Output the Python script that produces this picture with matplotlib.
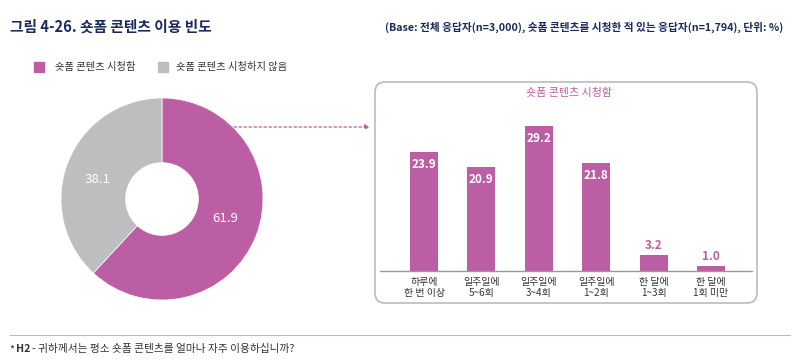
import matplotlib
matplotlib.use('Agg')
import matplotlib.pyplot as plt
from matplotlib.patches import FancyBboxPatch, Rectangle

plt.rcParams['font.family'] = ['Noto Sans CJK KR', 'DejaVu Sans']

# 데이터
pie_labels = ['숏폼 콘텐츠 시청함', '숏폼 콘텐츠 시청하지 않음']
pie_values = [61.9, 38.1]
bar_cats = ['하루에\n한 번 이상', '일주일에\n5~6회', '일주일에\n3~4회',
            '일주일에\n1~2회', '한 달에\n1~3회', '한 달에\n1회 미만']
bar_values = [23.9, 20.9, 29.2, 21.8, 3.2, 1.0]

MAGENTA = '#BC5EA3'
GRAY = '#BDBEC0'
NAVY = '#1B2A5C'
TXT = '#333333'
W, H = 800, 360

def px(x0, y0, x1, y1):
    # 픽셀 좌표(좌상단 기준) -> figure 비율
    return [x0 / W, 1 - y1 / H, (x1 - x0) / W, (y1 - y0) / H]

fig = plt.figure(figsize=(8, 3.6), dpi=100)

# 배경용 축 (픽셀 단위)
bg = fig.add_axes([0, 0, 1, 1])
bg.set_xlim(0, W)
bg.set_ylim(H, 0)
bg.axis('off')

bg.text(10, 27, '그림 4-26. 숏폼 콘텐츠 이용 빈도', fontsize=10.6, fontweight='bold',
        color=NAVY, va='center', ha='left')
bg.text(783, 27, '(Base: 전체 응답자(n=3,000), 숏폼 콘텐츠를 시청한 적 있는 응답자(n=1,794), 단위: %)',
        fontsize=7.7, fontweight='bold', color=NAVY, va='center', ha='right')

# 범례
bg.add_patch(Rectangle((34, 62), 10, 10, color=MAGENTA))
bg.text(55, 67, pie_labels[0], fontsize=7.4, color=TXT, va='center')
bg.add_patch(Rectangle((158, 62), 10, 10, color=GRAY))
bg.text(176, 67, pie_labels[1], fontsize=7.4, color=TXT, va='center')

# 오른쪽 박스
bg.add_patch(FancyBboxPatch((375, 82), 382, 221, boxstyle='round,pad=0,rounding_size=10',
                            fc='white', ec='#BBBBBB', lw=1.2))
bg.text(569, 93, '숏폼 콘텐츠 시청함', fontsize=7.9, color=MAGENTA, ha='center', va='center')

# 점선 화살표
bg.annotate('', xy=(370, 127), xytext=(234, 127),
            arrowprops=dict(arrowstyle='-|>', color=MAGENTA, lw=0.9, ls=(0, (2, 2)),
                            mutation_scale=7, shrinkA=0, shrinkB=0))

# 하단 구분선과 주석
bg.plot([10, 790], [335, 335], color='#BBBBBB', lw=0.8)
bg.text(9, 349, '*', fontsize=7.7, color=TXT, va='center')
bg.text(16, 349, 'H2', fontsize=7.7, fontweight='bold', color=TXT, va='center')
bg.text(32, 349, '- 귀하께서는 평소 숏폼 콘텐츠를 얼마나 자주 이용하십니까?', fontsize=7.7,
        color=TXT, va='center')

# 도넛 차트
ax1 = fig.add_axes(px(61, 98, 263, 300))
ax1.pie(pie_values, colors=[MAGENTA, GRAY], startangle=90, counterclock=False,
        wedgeprops=dict(width=0.64, edgecolor='white', linewidth=0.5))
ax1.set_xlim(-1, 1)
ax1.set_ylim(-1, 1)
ax1.set_aspect('equal')
ax1.text(0.63, -0.19, f'{pie_values[0]}', color='white', fontsize=9.5, ha='center', va='center')
ax1.text(-0.64, 0.19, f'{pie_values[1]}', color='white', fontsize=9.5, ha='center', va='center')

# 막대 차트
ax2 = fig.add_axes(px(380, 100, 752, 271))
x = list(range(len(bar_values)))
ax2.bar(x, bar_values, width=0.49, color=MAGENTA)
ax2.set_xlim(-0.767, 5.714)
ax2.set_ylim(0, 171 / 4.97)
for s in ['top', 'right', 'left']:
    ax2.spines[s].set_visible(False)
ax2.spines['bottom'].set_color('#999999')
ax2.spines['bottom'].set_linewidth(1)
ax2.set_yticks([])
ax2.set_xticks(x)
ax2.set_xticklabels(bar_cats, fontsize=7.2, color=TXT, linespacing=1.2)
ax2.tick_params(axis='x', length=0, pad=4)
for i, v in enumerate(bar_values):
    if v > 10:
        ax2.text(i, v - 1.2, f'{v}', color='white', fontsize=8.5, fontweight='bold',
                 ha='center', va='top')
    else:
        ax2.text(i, v + 0.6, f'{v}', color=MAGENTA, fontsize=8.5, fontweight='bold',
                 ha='center', va='bottom')

fig.savefig('out.png', dpi=100)
